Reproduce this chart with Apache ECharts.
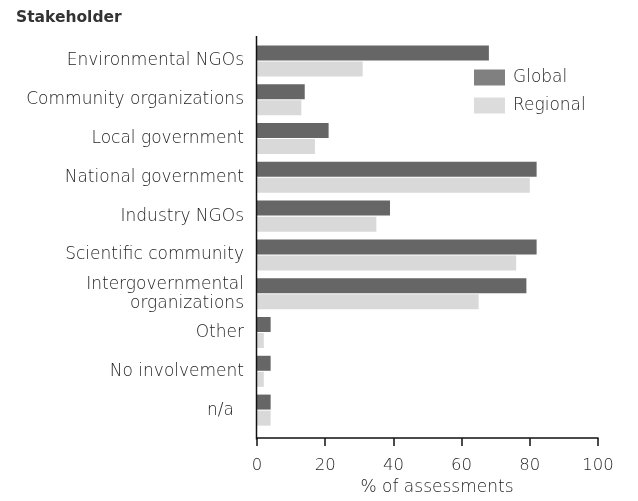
<!DOCTYPE html>
<html>
<head>
<meta charset="utf-8">
<title>Stakeholder</title>
<script src="https://cdn.jsdelivr.net/npm/echarts@6/dist/echarts.min.js"></script>
<style>
html, body { margin: 0; padding: 0; background: #fff; }
#main { width: 638px; height: 501px; }
</style>
</head>
<body>
<div id="main"></div>
<script>
// data
var categories = ['Environmental NGOs', 'Community organizations', 'Local government',
  'National government', 'Industry NGOs', 'Scientific community',
  'Intergovernmental\norganizations', 'Other', 'No involvement', 'n/a'];
var globalVals = [68, 14, 21, 82, 39, 82, 79, 4, 4, 4];
var regionalVals = [31, 13, 17, 80, 35, 76, 65, 2, 2, 4];
var xTicks = [0, 20, 40, 60, 80, 100];

var FONT = 'DejaVu Sans';
var TXT = '#1e1e1e';
var W = 300;
var gridLeft = 257, gridTop = 41.5, gridRight = 40, gridBottom = 70.5;

var chart = echarts.init(document.getElementById('main'));

var yData = categories.map(function (c) {
  if (c === 'n/a') return { value: c, textStyle: { padding: [0, 10, 0, 0] } };
  return c;
});

chart.setOption({
  animation: false,
  title: {
    text: 'Stakeholder',
    left: 11, top: 5,
    textStyle: { fontFamily: FONT, fontSize: 15.5, fontWeight: 'bold', color: '#333' }
  },
  legend: {
    orient: 'vertical',
    left: 469, top: 64,
    icon: 'rect',
    itemWidth: 31, itemHeight: 16, itemGap: 11,
    textStyle: { fontFamily: FONT, fontSize: 17, fontWeight: W, color: TXT, padding: [0, 0, 0, 3] },
    data: [
      { name: 'Global', itemStyle: { color: '#808080' } },
      { name: 'Regional', itemStyle: { color: '#dcdcdc' } }
    ]
  },
  grid: { left: gridLeft, top: gridTop, right: gridRight, bottom: gridBottom, containLabel: false },
  xAxis: {
    type: 'value',
    min: xTicks[0], max: xTicks[xTicks.length - 1], interval: 20,
    offset: 8.5,
    name: '% of assessments',
    nameLocation: 'middle',
    nameGap: 41,
    nameTextStyle: { fontFamily: FONT, fontSize: 17, fontWeight: W, color: TXT, padding: [0, 0, 0, 19] },
    axisLine: { show: true, lineStyle: { color: '#111', width: 1.5 } },
    axisTick: { show: true, length: 8, lineStyle: { color: '#111', width: 1.5 } },
    axisLabel: { fontFamily: FONT, fontSize: 16.5, fontWeight: W, color: TXT, margin: 19 },
    splitLine: { show: false }
  },
  yAxis: {
    type: 'category',
    inverse: true,
    data: yData,
    axisLine: { show: false },
    axisTick: { show: false },
    axisLabel: { fontFamily: FONT, fontSize: 17, fontWeight: W, color: TXT, margin: 13, lineHeight: 19, align: 'right' }
  },
  series: [
    {
      name: 'Global', type: 'bar', data: globalVals,
      barWidth: 15, barGap: '7%',
      itemStyle: { color: '#666666' }
    },
    {
      name: 'Regional', type: 'bar', data: regionalVals,
      barWidth: 15,
      itemStyle: { color: '#d9d9d9' }
    }
  ],
  graphic: [{
    type: 'line',
    shape: { x1: gridLeft - 0.5, y1: 36, x2: gridLeft - 0.5, y2: 439.5 },
    style: { stroke: '#111', lineWidth: 1.5 },
    z: 10
  }]
});
</script>
</body>
</html>
